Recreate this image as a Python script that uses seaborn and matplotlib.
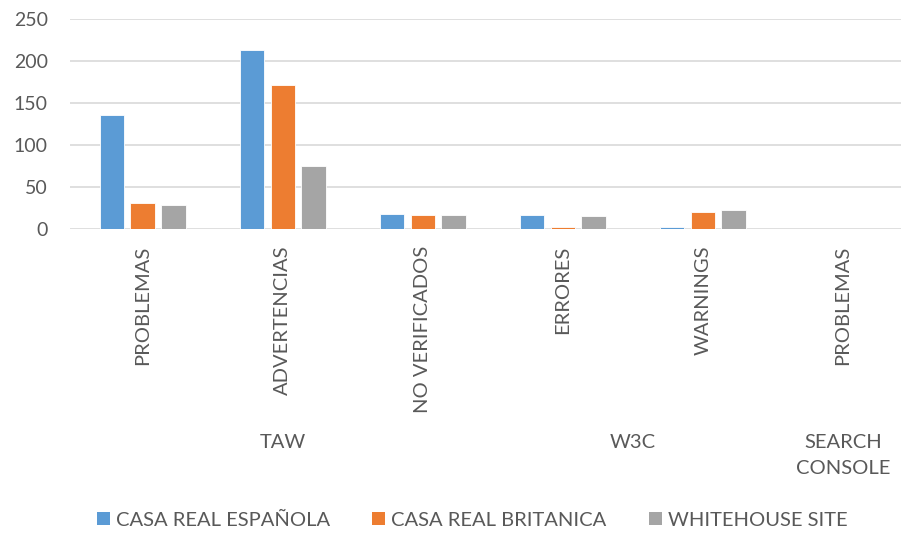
import matplotlib
matplotlib.use("Agg")
import matplotlib.pyplot as plt
import seaborn as sns
import pandas as pd
from matplotlib.patches import Patch
import matplotlib.transforms as mtransforms

categories = ["PROBLEMAS", "ADVERTENCIAS", "NO VERIFICADOS", "ERRORES", "WARNINGS", "PROBLEMAS "]
groups = ["TAW", "W3C", "SEARCH\nCONSOLE"]
group_positions = [1, 3.5, 5]
series_names = ["CASA REAL ESPAÑOLA", "CASA REAL BRITANICA", "WHITEHOUSE SITE"]
casa_real_espanola = [136, 213, 18, 17, 2, 0]
casa_real_britanica = [31, 172, 17, 2, 20, 0]
whitehouse_site = [28, 75, 17, 15, 23, 0]
yticks = [0, 50, 100, 150, 200, 250]
colors = ["#5B9BD5", "#ED7D31", "#A5A5A5"]

rows = []
for name, vals in zip(series_names, [casa_real_espanola, casa_real_britanica, whitehouse_site]):
    for c, v in zip(categories, vals):
        rows.append({"cat": c, "serie": name, "valor": v})
df = pd.DataFrame(rows)

sns.set_theme(style="white")
plt.rcParams["font.family"] = ["Lato", "DejaVu Sans"]
txt = "#595959"

W, H = 901, 534
fig = plt.figure(figsize=(W / 100, H / 100), dpi=100)
ax = fig.add_axes([70 / W, 1 - 229 / H, 1 - 70 / W, (229 - 19) / H])

sns.barplot(data=df, x="cat", y="valor", hue="serie", order=categories,
            hue_order=series_names, palette=colors, width=0.66, gap=0.2,
            saturation=1, ax=ax, legend=False, edgecolor="white", linewidth=0.6)

ax.set_ylim(0, 250)
ax.set_xlim(-0.52, 5.414)
ax.set_yticks(yticks)
ax.yaxis.grid(True, color="#D9D9D9", linewidth=1.2)
ax.set_axisbelow(True)
for s in ax.spines.values():
    s.set_visible(False)
ax.set_xlabel("")
ax.set_ylabel("")
ax.tick_params(axis="y", length=0, pad=16, labelsize=14, labelcolor=txt)
ax.set_xticks(range(len(categories)))
ax.set_xticklabels([c.strip() for c in categories], rotation=90, fontsize=14.5,
                   color=txt, va="top", ha="center")
ax.tick_params(axis="x", length=0, pad=12)

trans = mtransforms.blended_transform_factory(ax.transData, fig.transFigure)
for g, p in zip(groups, group_positions):
    ax.text(p, 1 - 434 / H, g, transform=trans, ha="center", va="top",
            fontsize=14.5, color=txt, linespacing=1.65)

handles = [Patch(facecolor=c, edgecolor="none") for c in colors]
fig.legend(handles, series_names, loc="center", bbox_to_anchor=(472 / W, 1 - 520 / H),
           ncol=3, frameon=False, fontsize=14.5, labelcolor=txt,
           handlelength=0.65, handleheight=0.65, handletextpad=0.3, columnspacing=2.1)

fig.savefig("out.png", dpi=100)
